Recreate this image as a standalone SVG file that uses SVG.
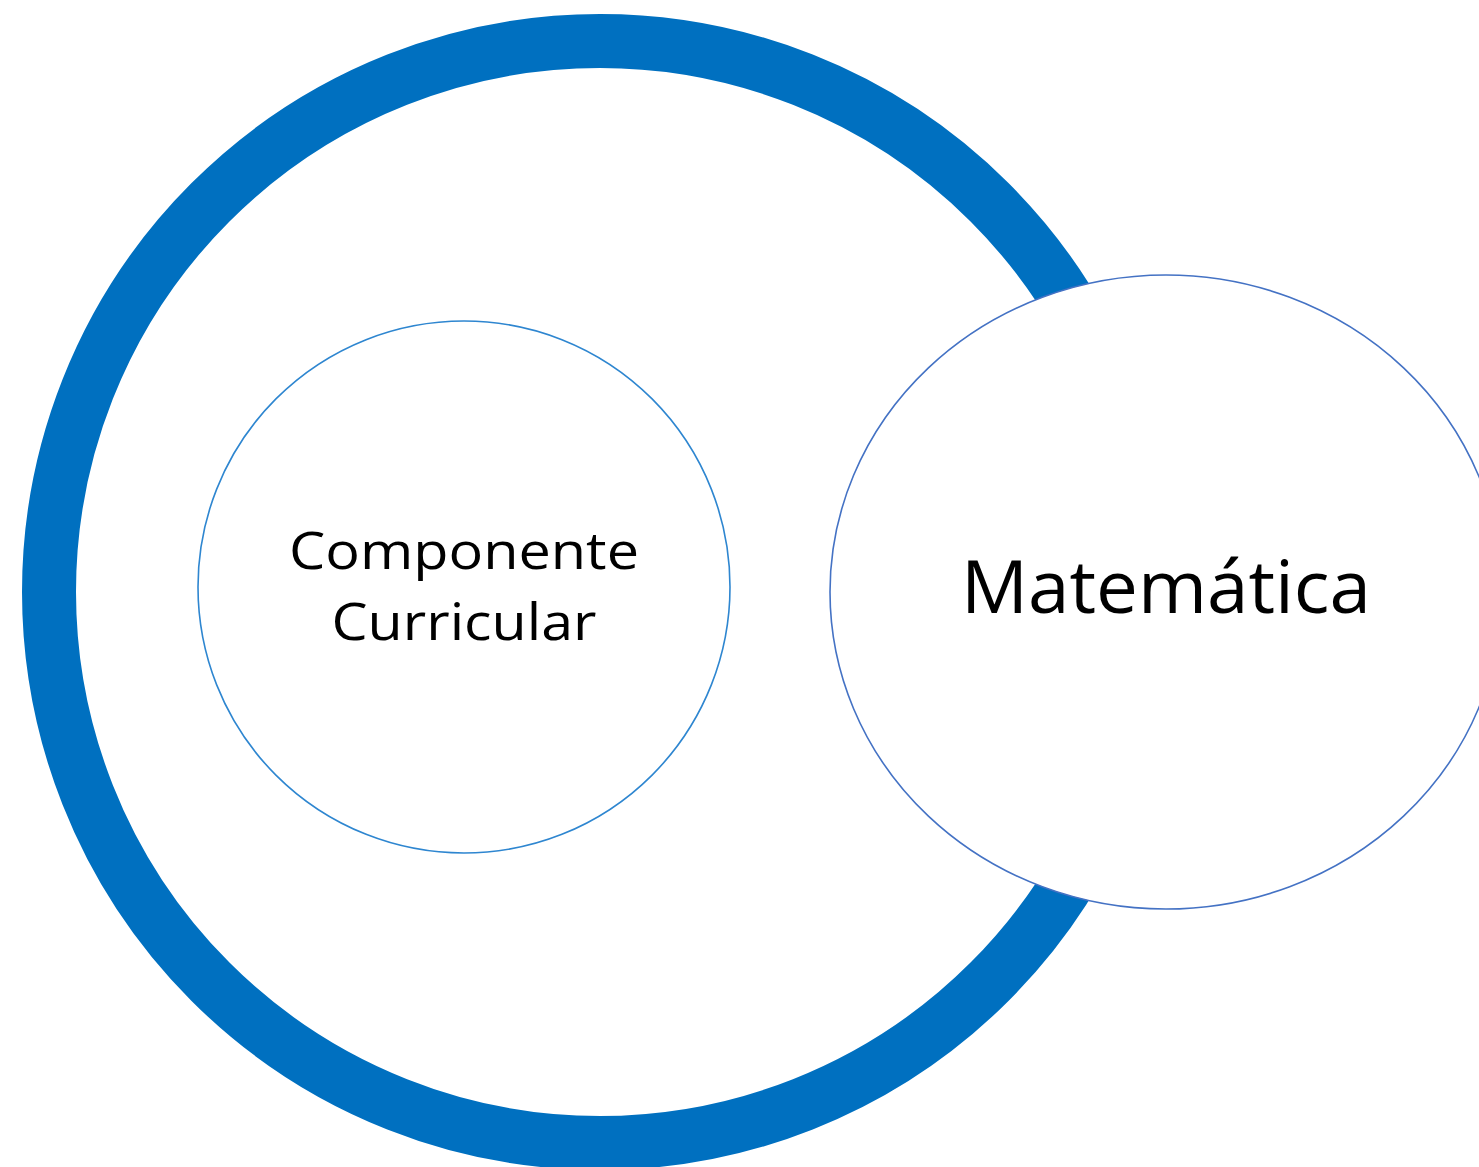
<svg xmlns="http://www.w3.org/2000/svg" width="1479" height="1167" viewBox="0 0 1479 1167">
<style>
.lbl{font-family:"Open Sans","Noto Sans","Liberation Sans",sans-serif;fill:#000;text-anchor:middle}
</style>
<rect width="1479" height="1167" fill="#fff"/>
<g id="outer-ring">
<circle cx="600" cy="592" r="551" fill="#fff" stroke="#0070C0" stroke-width="54"/>
</g>
<g id="componente-curricular">
<circle cx="464" cy="587" r="266" fill="#fff" stroke="#2E86D0" stroke-width="1.6"/>
<text class="lbl" x="464" y="569" font-size="52" textLength="350" lengthAdjust="spacingAndGlyphs">Componente</text>
<text class="lbl" x="464" y="640" font-size="52" textLength="265" lengthAdjust="spacingAndGlyphs">Curricular</text>
</g>
<g id="matematica">
<ellipse cx="1166" cy="592" rx="336" ry="317" fill="#fff" stroke="#4472C4" stroke-width="1.6"/>
<text class="lbl" x="1166" y="613" font-size="74" textLength="410" lengthAdjust="spacingAndGlyphs">Matemática</text>
</g>
<g id="connectors"/>
</svg>
